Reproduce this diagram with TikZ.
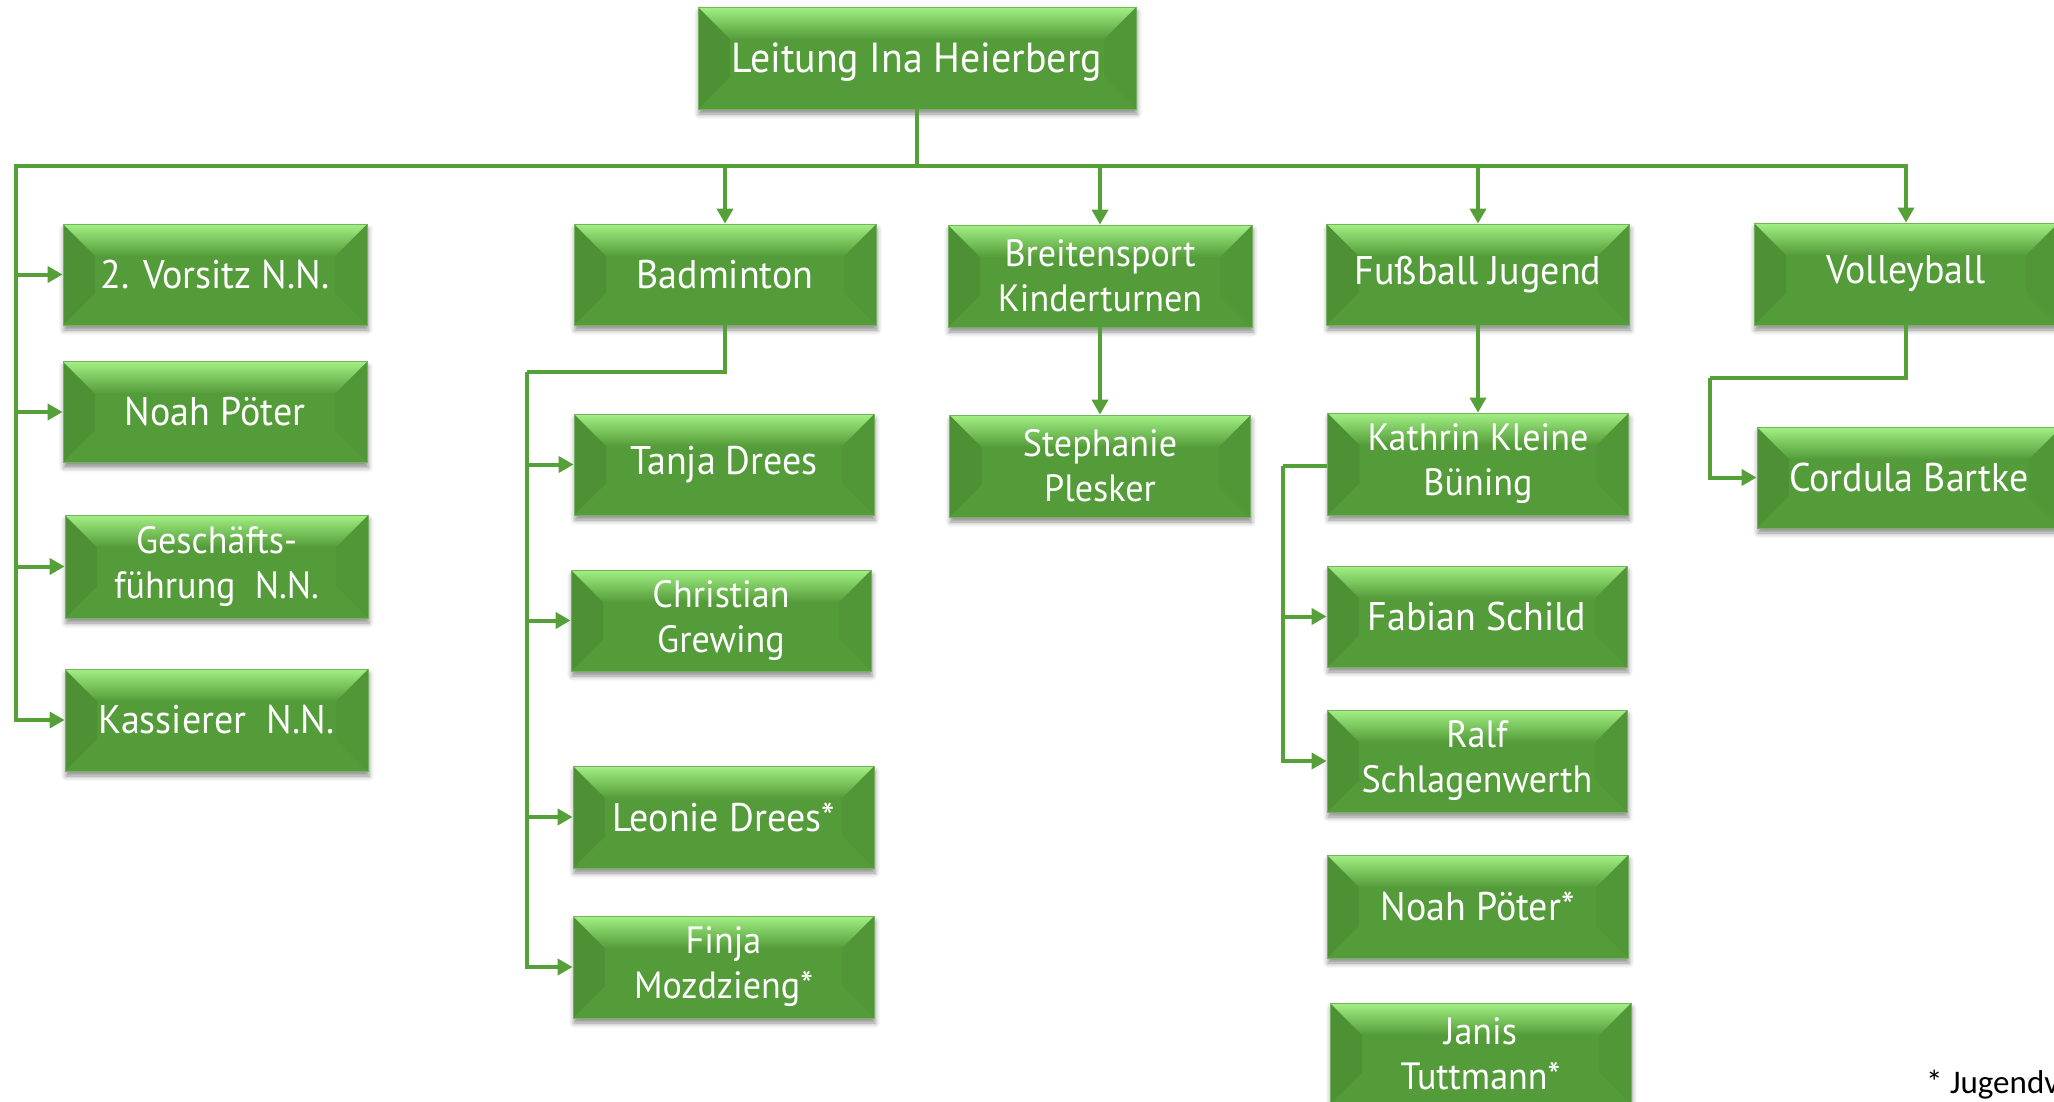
\documentclass[tikz,border=0pt]{standalone}
\usepackage{fontspec}
\setmainfont{PT Sans}[FakeStretch=0.95]
\newfontfamily\notefont{Carlito}
\usetikzlibrary{arrows.meta,shadows.blur,calc}
\definecolor{gmain}{RGB}{84,156,57}
\definecolor{ghi}{RGB}{162,240,132}
\definecolor{gline}{RGB}{86,160,58}
\colorlet{gleft}{gmain!93!black}
\colorlet{gright}{gmain!97!black}
\begin{document}
\begin{tikzpicture}[x=1pt,y=-1pt,
  bevel/.style={path picture={
    \path (path picture bounding box.north west) coordinate (pNW)
          (path picture bounding box.north east) coordinate (pNE)
          (path picture bounding box.south west) coordinate (pSW)
          (path picture bounding box.south east) coordinate (pSE);
    \fill[gleft] (pNW) -- ([shift={(32pt,-32pt)}]pNW) -- ([shift={(32pt,32pt)}]pSW) -- (pSW) -- cycle;
    \fill[gright] (pNE) -- ([shift={(-32pt,-32pt)}]pNE) -- ([shift={(-32pt,32pt)}]pSE) -- (pSE) -- cycle;
    \shade[top color=ghi, bottom color=gmain] (pNW) -- (pNE) -- ([shift={(-32pt,-32pt)}]pNE) -- ([shift={(32pt,-32pt)}]pNW) -- cycle;
  }},
  gbox/.style={rectangle, inner sep=0pt, minimum width=302pt, minimum height=101pt,
    fill=gmain, draw=gmain!80!white, line width=0.8pt, text=white, align=center,
    font=\fontsize{40}{45}\selectfont, bevel,
    blur shadow={shadow xshift=1pt, shadow yshift=-5pt, shadow blur radius=5pt, shadow opacity=45}},
  two/.style={font=\fontsize{38}{45}\selectfont},
  conn/.style={draw=gline, line width=4pt},
  arr/.style={conn, -{Triangle[width=16pt,length=15pt]}}
]
\useasboundingbox (0,0) rectangle (2054,1102);
\clip (0,0) rectangle (2054,1102);

% nodes
\node[gbox, minimum width=438pt, minimum height=102pt, text depth=0pt, font=\fontsize{42}{48}\selectfont] (top) at (917,58) {Leitung Ina Heierberg};

\node[gbox, minimum width=304pt] (vors) at (215,274.5) {2. Vorsitz N.N.};
\node[gbox, minimum width=304pt] (noah1) at (215,412) {Noah Pöter};
\node[gbox, minimum width=303pt, minimum height=103pt, two] (gesch) at (216.5,566.5) {Geschäfts-\\führung~~N.N.};
\node[gbox, minimum width=303pt, minimum height=102pt] (kass) at (216.5,720) {Kassierer~~N.N.};

\node[gbox] (bad) at (725,274.5) {Badminton};
\node[gbox, minimum width=300pt] (tanja) at (724,464.5) {Tanja Drees};
\node[gbox, minimum width=300pt, two] (chris) at (721,620.5) {Christian\\Grewing};
\node[gbox, minimum width=301pt, minimum height=102pt] (leonie) at (723.5,817) {Leonie Drees*};
\node[gbox, minimum width=301pt, minimum height=102pt, two] (finja) at (723.5,967) {Finja\\Mozdzieng*};

\node[gbox, minimum width=304pt, minimum height=102pt, two] (breit) at (1100,276) {Breitensport\\Kinderturnen};
\node[gbox, minimum width=301pt, minimum height=102pt, two] (steph) at (1100,466) {Stephanie\\Plesker};

\node[gbox, minimum width=303pt] (fuss) at (1478,274.5) {Fußball Jugend};
\node[gbox, minimum width=301pt, minimum height=102pt, two] (kath) at (1478,464) {Kathrin Kleine\\Büning};
\node[gbox, minimum width=300pt] (fabian) at (1477,616.5) {Fabian Schild};
\node[gbox, minimum width=300pt, minimum height=102pt, two] (ralf) at (1477,761) {Ralf\\Schlagenwerth};
\node[gbox, minimum width=301pt, minimum height=103pt] (noah2) at (1477.5,906.5) {Noah Pöter*};
\node[gbox, minimum width=301pt, two] (janis) at (1480.5,1053.5) {Janis\\Tuttmann*};

\node[gbox, minimum width=304pt, minimum height=102pt] (volley) at (1906,274) {Volleyball};
\node[gbox, minimum width=304pt] (cordula) at (1909,477.5) {Cordula Bartke};

\node[anchor=base west, inner sep=0pt, text=black, font=\notefont\fontsize{33}{38}\selectfont] (note) at (1926,1093) {* Jugendvertreter};

% connectors
\coordinate (hub) at (917,166);
\coordinate (busL) at (16,166);
\coordinate (busR) at (1906,166);
\draw[conn] (top.south) -- (hub);
\draw[conn] ([xshift=-2pt]busL) -- ([xshift=2pt]busR);

\draw[arr] (busL) |- (kass.west);
\draw[arr] (busL |- vors.west) -- (vors.west);
\draw[arr] (busL |- noah1.west) -- (noah1.west);
\draw[arr] (busL |- gesch.west) -- (gesch.west);

\draw[arr] (bad.north |- hub) -- (bad.north);
\draw[arr] (breit.north |- hub) -- (breit.north);
\draw[arr] (fuss.north |- hub) -- (fuss.north);
\draw[arr] (busR) -- (volley.north);

\coordinate (badj) at (527,372);
\draw[conn] (bad.south) |- (badj);
\draw[arr] (badj) |- (finja.west);
\draw[arr] (badj |- tanja.west) -- (tanja.west);
\draw[arr] (badj |- chris.west) -- (chris.west);
\draw[arr] (badj |- leonie.west) -- (leonie.west);

\draw[arr] (breit.south) -- (steph.north);
\draw[arr] (fuss.south) -- (kath.north);

\coordinate (kathj) at (1283,466);
\draw[conn] ([yshift=-2pt]kath.west) -- (kathj);
\draw[arr] (kathj) |- (ralf.west);
\draw[arr] (kathj |- fabian.west) -- (fabian.west);

\coordinate (volj) at (1710,378);
\draw[conn] (volley.south) |- (volj);
\draw[arr] (volj) |- (cordula.west);
\end{tikzpicture}
\end{document}
